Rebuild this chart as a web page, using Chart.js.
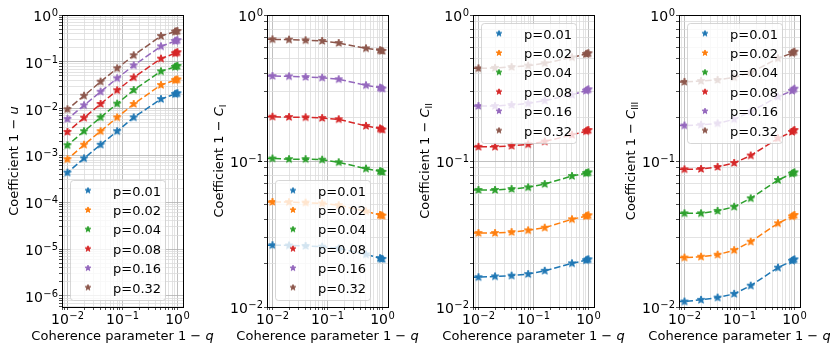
<!DOCTYPE html>
<html>
<head>
<meta charset="utf-8">
<script src="https://cdn.jsdelivr.net/npm/chart.js@4.4.1/dist/chart.umd.min.js"></script>
<style>
  html, body { margin: 0; padding: 0; background: #fff; }
  #wrap { position: relative; width: 830px; height: 356px; overflow: hidden; }
  canvas { position: absolute; top: 0; }
</style>
</head>
<body>
<div id="wrap">
  <canvas id="c0" width="240" height="356" style="left:0px"></canvas>
  <canvas id="c1" width="240" height="356" style="left:205px"></canvas>
  <canvas id="c2" width="240" height="356" style="left:411px"></canvas>
  <canvas id="c3" width="240" height="356" style="left:617px"></canvas>
</div>
<script>
// coherence parameter 1-q (first point sits left of the axis and is clipped)
const Q = [0.005, 0.01, 0.02, 0.04, 0.08, 0.16, 0.5, 0.9, 0.95, 1.0];
const P_LABELS = ['p=0.01', 'p=0.02', 'p=0.04', 'p=0.08', 'p=0.16', 'p=0.32'];
const COLORS = ['#1f77b4', '#ff7f0e', '#2ca02c', '#d62728', '#9467bd', '#8c564b'];

// 1 - u
const ONE_MINUS_U = [
  [0.00022, 0.00043, 0.00087, 0.0017, 0.0033, 0.0065, 0.016, 0.0205, 0.021, 0.0213],
  [0.00042, 0.00083, 0.0017, 0.0033, 0.0065, 0.0126, 0.032, 0.0405, 0.0415, 0.042],
  [0.00083, 0.00165, 0.0033, 0.0065, 0.0128, 0.025, 0.0627, 0.078, 0.080, 0.0815],
  [0.0016, 0.00318, 0.0064, 0.0126, 0.0247, 0.0467, 0.117, 0.152, 0.157, 0.16],
  [0.0031, 0.006, 0.0118, 0.023, 0.0445, 0.084, 0.214, 0.277, 0.284, 0.29],
  [0.0049, 0.0097, 0.0189, 0.0377, 0.0726, 0.138, 0.356, 0.44, 0.448, 0.455],
];
// 1 - C_I
const ONE_MINUS_C1 = [
  [0.0265, 0.0265, 0.0264, 0.0262, 0.0259, 0.0252, 0.0229, 0.0216, 0.0214, 0.0213],
  [0.0524, 0.0524, 0.0523, 0.0519, 0.0512, 0.0498, 0.0452, 0.0427, 0.0424, 0.0422],
  [0.104, 0.104, 0.103, 0.103, 0.102, 0.098, 0.0886, 0.0851, 0.0845, 0.0841],
  [0.201, 0.201, 0.200, 0.199, 0.197, 0.193, 0.174, 0.167, 0.165, 0.164],
  [0.382, 0.382, 0.380, 0.376, 0.372, 0.363, 0.330, 0.318, 0.315, 0.313],
  [0.681, 0.681, 0.678, 0.671, 0.664, 0.643, 0.591, 0.574, 0.570, 0.567],
];
// 1 - C_II
const ONE_MINUS_C2 = [
  [0.0160, 0.0160, 0.0162, 0.0164, 0.0168, 0.0177, 0.0199, 0.0209, 0.0211, 0.0212],
  [0.0321, 0.0321, 0.0321, 0.0326, 0.0335, 0.0349, 0.0399, 0.0419, 0.0422, 0.0425],
  [0.0633, 0.0633, 0.0633, 0.0643, 0.066, 0.0695, 0.0789, 0.0825, 0.083, 0.0836],
  [0.125, 0.125, 0.125, 0.127, 0.130, 0.136, 0.151, 0.160, 0.162, 0.163],
  [0.238, 0.238, 0.238, 0.242, 0.248, 0.259, 0.284, 0.303, 0.307, 0.310],
  [0.431, 0.431, 0.434, 0.440, 0.450, 0.467, 0.513, 0.540, 0.544, 0.547],
];
// 1 - C_III
const ONE_MINUS_C3 = [
  [0.0109, 0.0109, 0.0112, 0.0116, 0.0123, 0.014, 0.0186, 0.0207, 0.0210, 0.0212],
  [0.0218, 0.0218, 0.0221, 0.0228, 0.0245, 0.028, 0.0374, 0.0417, 0.0422, 0.0427],
  [0.0438, 0.0438, 0.0438, 0.0455, 0.0486, 0.0555, 0.0741, 0.0818, 0.0828, 0.0836],
  [0.0877, 0.0877, 0.0882, 0.091, 0.0969, 0.109, 0.143, 0.158, 0.161, 0.163],
  [0.175, 0.175, 0.177, 0.181, 0.193, 0.218, 0.276, 0.302, 0.308, 0.313],
  [0.348, 0.348, 0.353, 0.359, 0.374, 0.403, 0.505, 0.548, 0.555, 0.561],
];

const X_MIN = 10 ** -2.1, X_MAX = 10 ** 0.1;
const FONT = 'DejaVu Sans', FS = 13, TICK_FS = 14;

const PANELS = [
  { vals: ONE_MINUS_U,  yMin: 10 ** -6.235, sym: 'u', sub: '',    legendTop: 180 },
  { vals: ONE_MINUS_C1, yMin: 0.01,         sym: 'C', sub: 'I',   legendTop: 180 },
  { vals: ONE_MINUS_C2, yMin: 0.01,         sym: 'C', sub: 'II',  legendTop: 23 },
  { vals: ONE_MINUS_C3, yMin: 0.01,         sym: 'C', sub: 'III', legendTop: 23 },
];

Chart.defaults.font.family = FONT;
Chart.defaults.font.size = FS;
Chart.defaults.color = '#000';

const isDecade = v => Math.abs(Math.log10(v) - Math.round(Math.log10(v))) < 1e-6;

function logTicks(min, max) {
  const out = [];
  for (let e = Math.floor(Math.log10(min)); e <= Math.ceil(Math.log10(max)); e++) {
    for (let m = 1; m < 10; m++) {
      const v = +(m * Math.pow(10, e)).toPrecision(6);
      if (v >= min && v <= max * 1.0001) out.push({ value: v });
    }
  }
  return out;
}

function star(color, r) {
  const c = document.createElement('canvas');
  const s = Math.ceil(r * 2 + 4);
  c.width = c.height = s;
  const g = c.getContext('2d');
  g.beginPath();
  for (let i = 0; i < 10; i++) {
    const rr = i % 2 ? r * 0.42 : r, a = -Math.PI / 2 + i * Math.PI / 5;
    g.lineTo(s / 2 + rr * Math.cos(a), s / 2 + rr * Math.sin(a));
  }
  g.closePath();
  g.fillStyle = color; g.fill();
  g.strokeStyle = color; g.lineWidth = 1; g.stroke();
  return c;
}
const STARS = COLORS.map(c => star(c, 4));
const LEG_STARS = COLORS.map(c => star(c, 3));

// draw a run of text pieces (normal / italic / subscript) centred on x, baseline y
function drawRich(ctx, parts, x, y) {
  const fontOf = p => `${p.it ? 'italic ' : ''}${p.sub ? FS * 0.7 : FS}px "${FONT}"`;
  let w = 0;
  for (const p of parts) { ctx.font = fontOf(p); w += ctx.measureText(p.t).width; }
  let cx = x - w / 2;
  ctx.textAlign = 'left'; ctx.textBaseline = 'alphabetic';
  for (const p of parts) {
    ctx.font = fontOf(p);
    ctx.fillText(p.t, cx, y + (p.sub ? FS * 0.22 : 0));
    cx += ctx.measureText(p.t).width;
  }
}

// "10" with a raised exponent, mathtext style; align 'center' or 'right'
function drawPow(ctx, v, x, y, align) {
  const e = Math.round(Math.log10(v));
  const ex = (e < 0 ? '\u2212' : '') + Math.abs(e);
  const base = `${TICK_FS}px "${FONT}"`, sup = `${TICK_FS * 0.71}px "${FONT}"`;
  ctx.font = base; const wb = ctx.measureText('10').width;
  ctx.font = sup; const ws = ctx.measureText(ex).width;
  const w = wb + 0.5 + ws;
  const x0 = align === 'right' ? x - w : x - w / 2;
  ctx.textAlign = 'left'; ctx.textBaseline = 'alphabetic';
  ctx.font = base; ctx.fillText('10', x0, y);
  ctx.font = sup; ctx.fillText(ex, x0 + wb + 0.5, y - 5);
}

const deco = {
  id: 'deco',
  afterDraw(chart, args, o) {
    const { ctx, chartArea: a, scales } = chart;
    ctx.save();
    // spines
    ctx.strokeStyle = '#000'; ctx.lineWidth = 1;
    ctx.strokeRect(a.left + 0.5, a.top + 0.5, a.right - a.left, a.bottom - a.top);

    // decade tick labels
    ctx.fillStyle = '#000';
    for (const t of scales.x.ticks) {
      if (isDecade(t.value)) drawPow(ctx, t.value, scales.x.getPixelForValue(t.value), a.bottom + 17, 'center');
    }
    for (const t of scales.y.ticks) {
      if (isDecade(t.value)) drawPow(ctx, t.value, a.left - 4, scales.y.getPixelForValue(t.value) + 6, 'right');
    }

    // legend
    const lx = a.left + 8, ly = o.legendTop, lw = 95, lh = 120;
    ctx.beginPath();
    ctx.roundRect(lx + 0.5, ly + 0.5, lw, lh, 3);
    ctx.fillStyle = 'rgba(255,255,255,0.8)'; ctx.fill();
    ctx.strokeStyle = 'rgba(204,204,204,0.8)'; ctx.stroke();
    ctx.font = `${FS}px "${FONT}"`; ctx.textAlign = 'left'; ctx.textBaseline = 'alphabetic';
    ctx.fillStyle = '#000';
    P_LABELS.forEach((t, i) => {
      const cy = ly + 10.5 + i * 19.4;
      const img = LEG_STARS[i];
      ctx.drawImage(img, lx + 18 - img.width / 2, cy - img.height / 2);
      ctx.fillText(t, lx + 43, cy + 5);
    });

    // axis titles
    ctx.fillStyle = '#000';
    drawRich(ctx, [{ t: 'Coherence parameter 1 \u2212 ' }, { t: 'q', it: true }],
      (a.left + a.right) / 2, 340);
    ctx.translate(a.left - 44, (a.top + a.bottom) / 2);
    ctx.rotate(-Math.PI / 2);
    const yParts = [{ t: 'Coefficient 1 \u2212 ' }, { t: o.sym, it: true }];
    if (o.sub) yParts.push({ t: o.sub, sub: true });
    drawRich(ctx, yParts, 0, 0);
    ctx.restore();
  }
};

const gridColor = c => (c.tick && isDecade(c.tick.value)) ? '#b0b0b0' : '#dcdcdc';

PANELS.forEach((pn, k) => {
  const datasets = pn.vals.map((ys, i) => ({
    label: P_LABELS[i],
    data: Q.map((q, j) => ({ x: q, y: ys[j] })),
    borderColor: COLORS[i],
    backgroundColor: COLORS[i],
    borderWidth: 1.5,
    borderDash: [6.5, 2.8],
    pointStyle: STARS[i],
    pointRadius: 4,
    tension: 0,
  }));
  new Chart(document.getElementById('c' + k), {
    type: 'line',
    data: { datasets },
    options: {
      responsive: false,
      animation: false,
      layout: { padding: { left: 0, right: 57, top: 15, bottom: 0 } },
      plugins: {
        legend: { display: false },
        tooltip: { enabled: false },
        deco: { legendTop: pn.legendTop, sym: pn.sym, sub: pn.sub },
      },
      scales: {
        x: {
          type: 'logarithmic', position: 'bottom', min: X_MIN, max: X_MAX,
          afterBuildTicks: s => { s.ticks = logTicks(X_MIN, X_MAX); },
          afterFit: s => { s.height = 49; },
          ticks: { display: false, autoSkip: false, maxRotation: 0 },
          grid: { color: gridColor, lineWidth: 0.8, tickLength: 3, tickColor: '#222', tickWidth: 0.8 },
          border: { display: false },
        },
        y: {
          type: 'logarithmic', position: 'left', min: pn.yMin, max: 1,
          afterBuildTicks: s => { s.ticks = logTicks(pn.yMin, 1); },
          afterFit: s => { s.width = 62; },
          ticks: { display: false, autoSkip: false },
          grid: { color: gridColor, lineWidth: 0.8, tickLength: 3, tickColor: '#222', tickWidth: 0.8 },
          border: { display: false },
        },
      },
    },
    plugins: [deco],
  });
});
</script>
</body>
</html>
